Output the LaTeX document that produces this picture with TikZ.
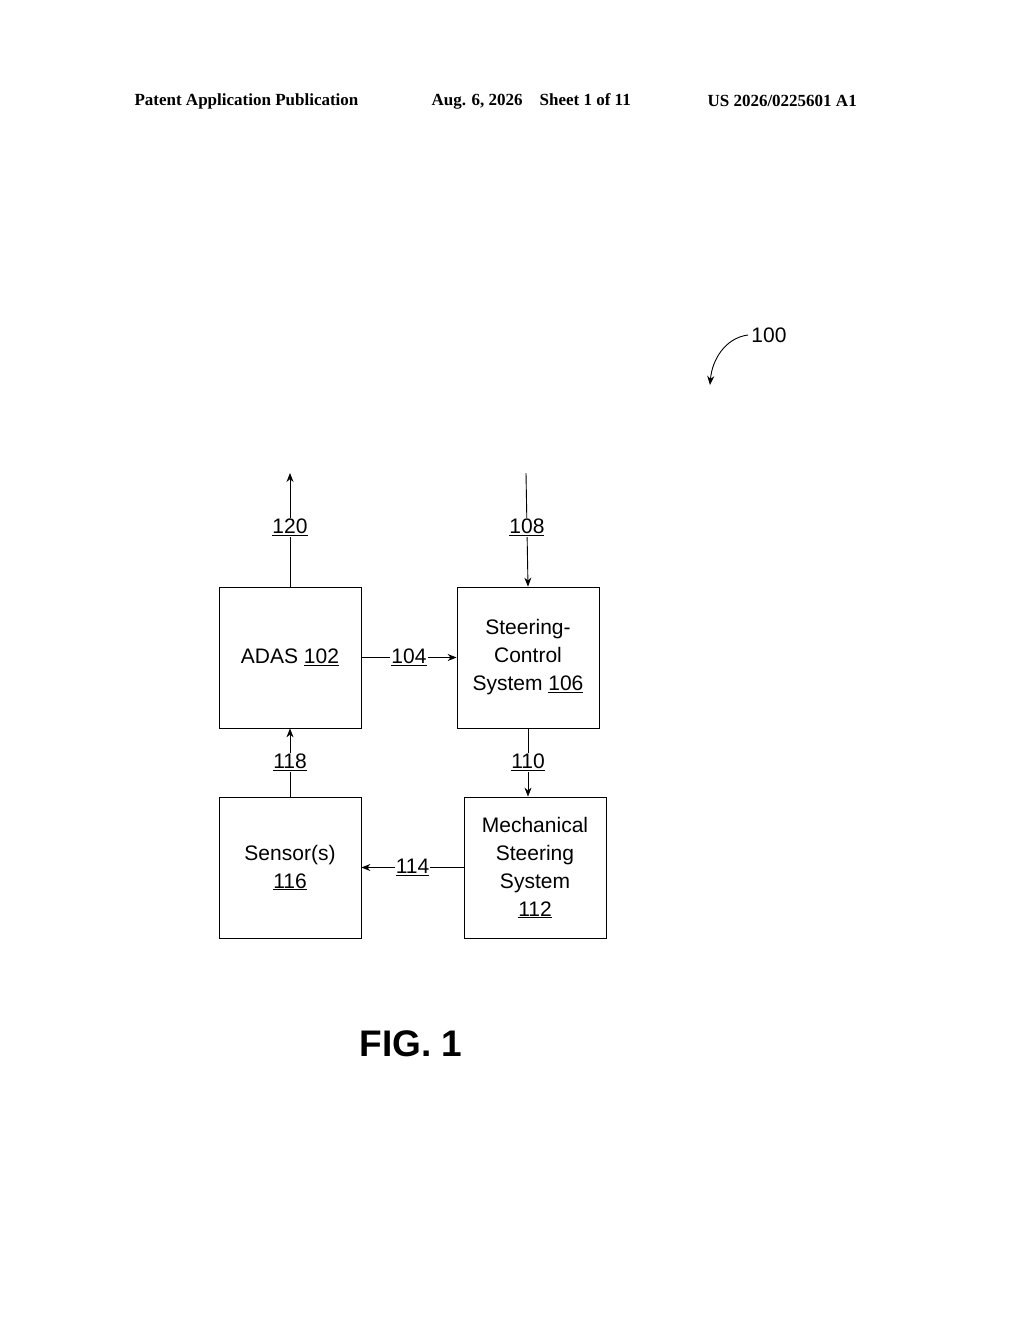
\documentclass[tikz,border=0pt]{standalone}
\usepackage{fontspec}
\setmainfont{Liberation Sans}
\newfontfamily\hdr{Liberation Serif}
\usetikzlibrary{arrows.meta}
\begin{document}
\begin{tikzpicture}[x=1pt,y=-1pt,
  box/.style={draw,line width=0.8pt,minimum width=142pt,minimum height=141pt,align=center,font=\fontsize{21}{28}\selectfont,inner sep=0},
  lab/.style={fill=white,inner sep=1pt,font=\fontsize{21}{24}\selectfont},
  arr/.style={line width=0.9pt,-{Stealth[length=9pt,width=7pt]}},
  ln/.style={line width=0.9pt}]
\useasboundingbox (0,0) rectangle (1024,1320);
\node[font=\hdr\bfseries\fontsize{17}{20}\selectfont,anchor=west] (h1) at (131,101) {Patent Application Publication};
\node[font=\hdr\bfseries\fontsize{17}{20}\selectfont,anchor=west] (h2) at (428,101) {Aug. 6, 2026\quad Sheet 1 of 11};
\node[font=\hdr\bfseries\fontsize{17}{20}\selectfont,anchor=west] (h3) at (704,101) {US 2026/0225601 A1};
\node[box] (adas) at (290,657.5) {ADAS \underline{102}};
\node[box] (scs) at (528,657.5) {Steering-\\Control\\System \underline{106}};
\node[box] (mss) at (535,867.5) {Mechanical\\Steering\\System\\\underline{112}};
\node[box] (sen) at (290,867.5) {Sensor(s)\\\underline{116}};
\coordinate (t120) at (290,473);
\coordinate (t108) at (526,473);
\draw[arr] (adas.north) -- (t120) node[lab,pos=0.52] (l120) {\underline{120}};
\draw[arr] (t108) -- (scs.north) node[lab,pos=0.48] (l108) {\underline{108}};
\draw[arr] (adas.east) -- (scs.west) node[lab,midway] (l104) {\underline{104}};
\draw[arr] (scs.south) -- (scs.south|-mss.north) node[lab,midway] (l110) {\underline{110}};
\draw[arr] (mss.west) -- (sen.east) node[lab,midway] (l114) {\underline{114}};
\draw[arr] (sen.north) -- (adas.south) node[lab,midway] (l118) {\underline{118}};
\node[font=\fontsize{21}{24}\selectfont] (l100) at (769,335) {100};
\coordinate (e100) at (710,385);
\draw[arr] (l100.west) .. controls (725,338) and (712,360) .. (e100);
\node[font=\bfseries\fontsize{37}{40}\selectfont] (fig) at (411,1044) {FIG. 1};
\end{tikzpicture}
\end{document}
